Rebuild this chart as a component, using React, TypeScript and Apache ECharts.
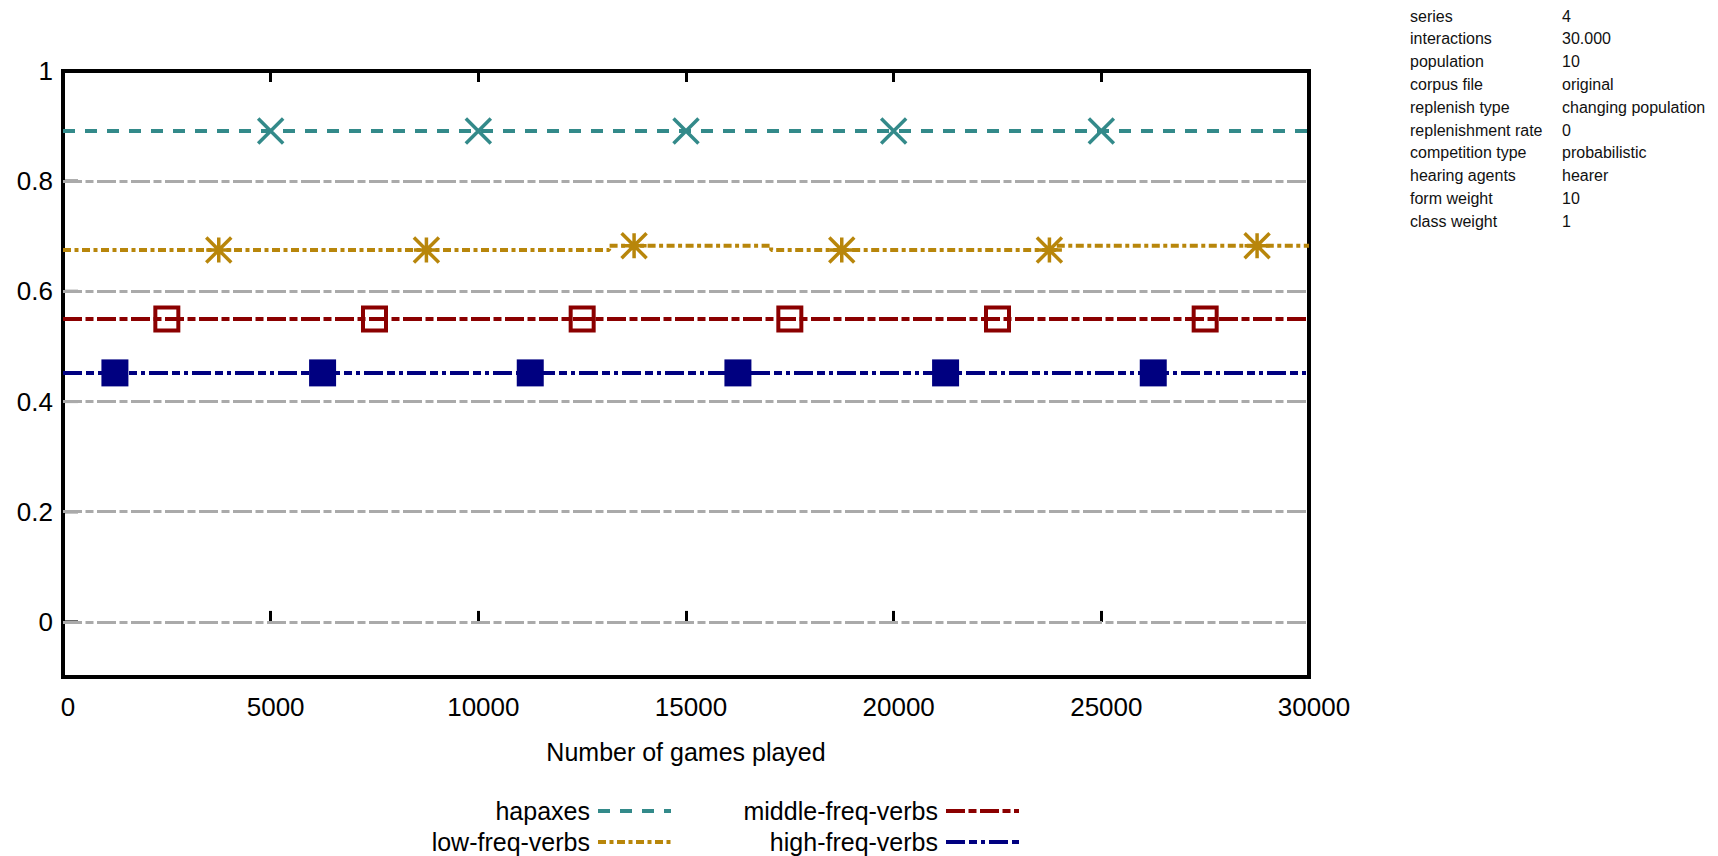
import React, { useEffect, useRef } from "react";
import * as echarts from "echarts";

const FONT = '"Liberation Sans", Arial, sans-serif';

const seriesNames = ["hapaxes", "low-freq-verbs", "middle-freq-verbs", "high-freq-verbs"];
const seriesColors = ["#338a8a", "#b8860b", "#8b0000", "#000080"];

// line data [games played, value]
const hapaxLine = [[0, 0.891], [30000, 0.891]];
const lowLine = [[0, 0.675], [13150, 0.683], [17050, 0.675], [23900, 0.683], [30000, 0.683]];
const midLine = [[0, 0.55], [30000, 0.55]];
const highLine = [[0, 0.452], [30000, 0.452]];

// point markers
const hapaxMarks = [[5000, 0.891], [10000, 0.891], [15000, 0.891], [20000, 0.891], [25000, 0.891]];
const lowMarks = [[3750, 0.675], [8750, 0.675], [13750, 0.683], [18750, 0.675], [23750, 0.675], [28750, 0.683]];
const midMarks = [[2500, 0.55], [7500, 0.55], [12500, 0.55], [17500, 0.55], [22500, 0.55], [27500, 0.55]];
const highMarks = [[1250, 0.452], [6250, 0.452], [11250, 0.452], [16250, 0.452], [21250, 0.452], [26250, 0.452]];

const yLabelValues = [0, 0.2, 0.4, 0.6, 0.8, 1];
const gridValues = [0, 0.2, 0.4, 0.6, 0.8];

const infoLabels = [
  "series", "interactions", "population", "corpus file", "replenish type",
  "replenishment rate", "competition type", "hearing agents", "form weight", "class weight",
];
const infoValues = [
  "4", "30.000", "10", "original", "changing population",
  "0", "probabilistic", "hearer", "10", "1",
];

const X_SYMBOL = "path://M0,0L10,10M10,0L0,10";
const STAR_SYMBOL = "path://M0,0L10,10M10,0L0,10M5,0L5,10M0,5L10,5";

export default function App() {
  const ref = useRef<HTMLDivElement>(null);
  useEffect(() => {
    if (!ref.current) return;
    const chart = echarts.init(ref.current, undefined, { renderer: "svg" });
    const lineData = [hapaxLine, lowLine, midLine, highLine];
    const dashes = [[12, 10], [8, 3.5, 4, 3.5], [19, 3.5, 8, 3.5], [19, 4, 8, 4, 4, 4]];
    const marks = [hapaxMarks, lowMarks, midMarks, highMarks];
    const markSymbols = [X_SYMBOL, STAR_SYMBOL, "rect", "rect"];
    const markSizes = [25, 25, 23, 27];

    const lineSeries = seriesNames.map((name, i) => ({
      name,
      type: "line",
      data: lineData[i],
      step: i === 1 ? "end" : undefined,
      symbol: "none",
      z: 3,
      lineStyle: { color: seriesColors[i], width: 4, type: dashes[i] },
      itemStyle: { color: seriesColors[i] },
    }));

    const markSeries = seriesNames.map((name, i) => ({
      name: name + " points",
      type: "scatter",
      data: marks[i],
      symbol: markSymbols[i],
      symbolSize: markSizes[i],
      z: 4,
      itemStyle:
        i === 3
          ? { color: seriesColors[i], opacity: 1 }
          : { color: "transparent", borderColor: seriesColors[i], borderWidth: i === 2 ? 4 : 3.5, opacity: 1 },
    }));

    const legendPos = [
      { right: 1045, top: 797 },
      { right: 1045, top: 828 },
      { right: 697, top: 797 },
      { right: 697, top: 828 },
    ];

    const option: any = {
      animation: false,
      backgroundColor: "#fff",
      grid: {
        left: 63, top: 71, width: 1246, height: 606,
        show: true, borderColor: "#000", borderWidth: 4, backgroundColor: "transparent",
      },
      xAxis: [
        {
          type: "value", min: 0, max: 30000, interval: 5000, position: "bottom",
          axisLine: { show: false },
          axisTick: { show: true, inside: true, length: 11, lineStyle: { color: "#000", width: 3 } },
          splitLine: { show: false },
          axisLabel: {
            fontSize: 26, fontFamily: FONT, color: "#000", margin: 17, padding: [0, 0, 0, 10],
            formatter: (v: number) => String(v),
          },
          name: "Number of games played",
          nameLocation: "middle",
          nameGap: 62,
          nameTextStyle: { fontSize: 25, fontFamily: FONT, color: "#000" },
        },
        {
          type: "value", min: 0, max: 30000, interval: 5000, position: "top",
          axisLine: { show: false },
          axisTick: { show: true, inside: true, length: 11, lineStyle: { color: "#000", width: 3 } },
          splitLine: { show: false },
          axisLabel: { show: false },
        },
      ],
      yAxis: {
        type: "value", min: -0.1, max: 1, interval: 0.1,
        axisLine: { show: false },
        axisTick: { show: false },
        splitLine: { show: false },
        axisLabel: {
          fontSize: 26, fontFamily: FONT, color: "#000", margin: 10,
          formatter: (val: number) => {
            const v = Math.round(val * 10) / 10;
            return yLabelValues.some((t) => Math.abs(t - v) < 1e-6) ? String(v) : "";
          },
        },
      },
      legend: seriesNames.map((name, i) => ({
        data: [name],
        orient: "horizontal",
        align: "right",
        right: legendPos[i].right,
        top: legendPos[i].top,
        padding: 0,
        itemWidth: 73,
        itemHeight: 28,
        selectedMode: false,
        itemStyle: { opacity: 0, borderWidth: 0 },
        lineStyle: { color: seriesColors[i], width: 4, type: dashes[i], opacity: 1 },
        textStyle: { fontSize: 25, fontFamily: FONT, color: "#000", lineHeight: 28, padding: [0, 3, 0, 0] },
      })),
      graphic: infoLabels.flatMap((label, i) => [
        {
          type: "text", x: 1410, y: 16 + 22.8 * i,
          style: { text: label, fill: "#111", font: `16px ${FONT}`, verticalAlign: "middle" },
        },
        {
          type: "text", x: 1562, y: 16 + 22.8 * i,
          style: { text: infoValues[i], fill: "#111", font: `16px ${FONT}`, verticalAlign: "middle" },
        },
      ]),
      series: [
        {
          name: "y ticks",
          type: "scatter",
          data: yLabelValues.map((v) => [0, v]),
          symbol: "rect",
          symbolSize: [15, 3],
          symbolOffset: [7.5, 0],
          itemStyle: { color: "#000", opacity: 1 },
          z: 2,
          silent: true,
          markLine: {
            silent: true,
            symbol: ["none", "none"],
            label: { show: false },
            lineStyle: { color: "#aaaaaa", width: 3, type: [19, 3.5, 8, 3.5] },
            data: gridValues.map((v) => ({ yAxis: v })),
          },
        },
        ...lineSeries,
        ...markSeries,
      ],
    };
    chart.setOption(option);
    return () => chart.dispose();
  }, []);
  return (
    <div
      ref={ref}
      style={{ position: "fixed", left: 0, top: 0, width: 1718, height: 856, background: "#fff" }}
    />
  );
}
